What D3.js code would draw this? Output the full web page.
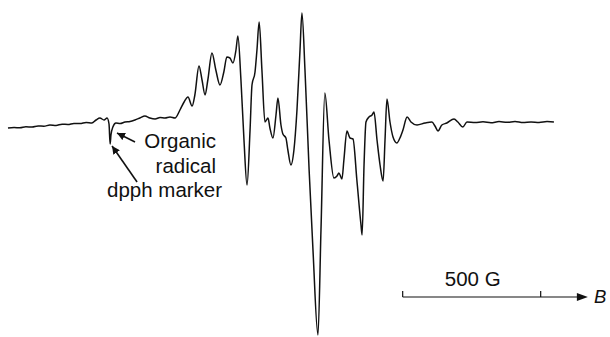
<!DOCTYPE html>
<html>
<head>
<meta charset="utf-8">
<script src="https://cdn.jsdelivr.net/npm/d3@7"></script>
<style>
  body { margin: 0; background: #fff; }
  text { font-family: "Liberation Sans", Arial, sans-serif; fill: #111; }
</style>
</head>
<body>
<svg id="chart"></svg>
<script>
// magnetic field (G)
const field = [
  0, 22, 43, 65, 87, 109, 130, 152, 174, 196, 217, 239, 261, 283, 304, 319, 333, 348, 359, 366,
  370, 373, 380, 391, 406, 424, 442, 460, 478, 496, 514, 533, 551, 569, 587, 605, 623, 638, 652, 667,
  677, 692, 703, 714, 724, 739, 753, 768, 782, 793, 804, 815, 826, 833, 844, 855, 866, 877, 884, 895,
  902, 910, 920, 931, 942, 949, 960, 971, 978, 989, 996, 1007, 1014, 1025, 1036, 1047, 1058, 1065, 1076, 1091,
  1105, 1123, 1134, 1148, 1163, 1181, 1192, 1199, 1210, 1217, 1228, 1239, 1250, 1264, 1279, 1283, 1290, 1297, 1308, 1319,
  1326, 1337, 1348, 1359, 1366, 1373, 1384, 1395, 1409, 1420, 1431, 1446, 1460, 1482, 1511, 1536, 1547, 1558, 1572, 1590,
  1616, 1630, 1648, 1663, 1692, 1721, 1750, 1779, 1808, 1837, 1866, 1895, 1924, 1953, 1978
];
// derivative signal (arbitrary units)
const signal = [
  -6, -5.5, -5.8, -4.8, -5, -4, -4.2, -3, -3.4, -2.2, -2.5, -1.4, -1.6, -0.5, -1, 2, 4, 2, 4, -2,
  -22, -13, -5, -1, -1.5, 0, 0.5, 2, 4, 6, 4, 3, 4.5, 4, 5, 4, 12, 20, 25, 16,
  27, 56, 42, 27, 42, 69, 52, 37, 50, 65, 64, 59, 72, 86, 42, -18, -63, -8, 37, 50,
  72, 100, 52, 0, 4, -6, -16, 7, 24, -3, -12, -16, -28, -43, -28, 12, 72, 109, 52, -48,
  -128, -213, -108, 29, -18, -56, -54, -51, -57, -38, -9, -16, -17, -58, -103, -113, -43, 0, 5, 7,
  10, -18, -43, -59, -18, 23, 0, -15, -21, -16, -8, 5, 0, -3, -1, 0, -4, -9, -3, -1,
  3, 0, -5, 0, -0.6, 0.2, -0.7, 0.4, -0.3, 0.5, -0.6, 0, -0.5, 0.4, 0
];

const scaleBar = { start: 1430, length: 500, label: "500 G", axisEnd: 2101, axisLabel: "B" };

const notes = [
  { lines: ["Organic", "radical"], pointAt: [395, -11] },
  { lines: ["dpph marker"], pointAt: [377, -24] }
];

const width = 610, height = 337;

const svg = d3.select("#chart")
  .attr("width", width)
  .attr("height", height);

const x = d3.scaleLinear().domain([0, 2000]).range([8, 560]);
const y = d3.scaleLinear().domain([-215, 110]).range([337, 12]);

const data = field.map((f, i) => ({ f, v: signal[i] }));

const line = d3.line()
  .x(d => x(d.f))
  .y(d => y(d.v))
  .curve(d3.curveMonotoneX);

svg.append("path")
  .datum(data)
  .attr("fill", "none")
  .attr("stroke", "#111")
  .attr("stroke-width", 1.5)
  .attr("stroke-linejoin", "round")
  .attr("d", line);

// arrow marker
svg.append("defs").append("marker")
  .attr("id", "head")
  .attr("viewBox", "0 0 10 10")
  .attr("refX", 10).attr("refY", 5)
  .attr("markerWidth", 8).attr("markerHeight", 8)
  .attr("markerUnits", "userSpaceOnUse")
  .attr("orient", "auto")
  .append("path")
  .attr("d", "M0,0L10,5L0,10z")
  .attr("fill", "#111");

// annotations
const organic = notes[0], dpph = notes[1];
svg.append("line")
  .attr("x1", x(organic.pointAt[0]) + 18).attr("y1", y(organic.pointAt[1]) + 9)
  .attr("x2", x(organic.pointAt[0])).attr("y2", y(organic.pointAt[1]))
  .attr("stroke", "#111").attr("stroke-width", 1.6)
  .attr("marker-end", "url(#head)");
svg.append("text")
  .attr("x", 216).attr("y", 148)
  .attr("text-anchor", "end")
  .attr("font-size", 20.5)
  .text(organic.lines[0]);
svg.append("text")
  .attr("x", 216).attr("y", 173)
  .attr("text-anchor", "end")
  .attr("font-size", 20.5)
  .text(organic.lines[1]);

svg.append("line")
  .attr("x1", x(dpph.pointAt[0]) + 25).attr("y1", y(dpph.pointAt[1]) + 36)
  .attr("x2", x(dpph.pointAt[0])).attr("y2", y(dpph.pointAt[1]))
  .attr("stroke", "#111").attr("stroke-width", 1.6)
  .attr("marker-end", "url(#head)");
svg.append("text")
  .attr("x", 107).attr("y", 197)
  .attr("font-size", 20.5)
  .text(dpph.lines[0]);

// field scale bar
const barY = 297;
const bx0 = x(scaleBar.start), bx1 = x(scaleBar.start + scaleBar.length), bEnd = x(scaleBar.axisEnd);
const bar = svg.append("g").attr("stroke", "#111").attr("stroke-width", 1.2);
bar.append("line").attr("x1", bx0).attr("x2", bEnd - 8).attr("y1", barY).attr("y2", barY);
bar.append("line").attr("x1", bx0).attr("x2", bx0).attr("y1", barY - 6).attr("y2", barY);
bar.append("line").attr("x1", bx1).attr("x2", bx1).attr("y1", barY - 6).attr("y2", barY);
svg.append("path")
  .attr("d", `M${bEnd - 11},${barY - 4}L${bEnd},${barY}L${bEnd - 11},${barY + 4}z`)
  .attr("fill", "#111");
svg.append("text")
  .attr("x", (bx0 + bx1) / 2 + 1).attr("y", 286)
  .attr("text-anchor", "middle")
  .attr("font-size", 20.5)
  .text(scaleBar.label);
svg.append("text")
  .attr("x", bEnd + 6).attr("y", 303)
  .attr("font-size", 18.5)
  .attr("font-style", "italic")
  .text(scaleBar.axisLabel);
</script>
</body>
</html>
